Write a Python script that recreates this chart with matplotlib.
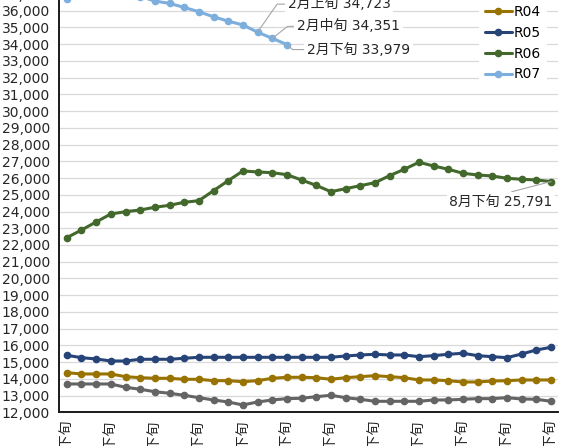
import numpy as np
import matplotlib
matplotlib.use('Agg')
import matplotlib.pyplot as plt

plt.rcParams['font.family'] = ['DejaVu Sans', 'Noto Sans CJK JP']

# 旬ごとの区分 (9月下旬 〜 8月下旬)
months = [9, 10, 11, 12, 1, 2, 3, 4, 5, 6, 7, 8]
categories = ['9月下旬']
for m in months[1:]:
    for j in ['上旬', '中旬', '下旬']:
        categories.append(f'{m}月{j}')

r03 = [13692, 13692, 13692, 13692, 13494, 13375, 13231, 13136, 13016, 12873,
       12735, 12616, 12436, 12616, 12735, 12815, 12837, 12932, 13016, 12873,
       12777, 12657, 12657, 12657, 12657, 12735, 12735, 12777, 12816, 12816,
       12873, 12795, 12777, 12657]
r04 = [14367, 14290, 14290, 14290, 14128, 14068, 14032, 14032, 13972, 13972,
       13889, 13889, 13829, 13889, 14032, 14092, 14092, 14068, 13972, 14068,
       14128, 14188, 14128, 14068, 13931, 13931, 13889, 13811, 13811, 13869,
       13889, 13931, 13931, 13931]
r05 = [15407, 15264, 15186, 15066, 15066, 15168, 15168, 15168, 15228, 15287,
       15287, 15287, 15287, 15287, 15287, 15287, 15287, 15287, 15287, 15365,
       15425, 15467, 15425, 15425, 15323, 15385, 15467, 15527, 15385, 15323,
       15264, 15485, 15724, 15885]
r06 = [22436, 22897, 23375, 23853, 23990, 24092, 24253, 24373, 24552, 24648,
       25246, 25843, 26424, 26364, 26322, 26202, 25885, 25560, 25186, 25365,
       25545, 25724, 26143, 26525, 26943, 26722, 26525, 26286, 26184, 26124,
       25987, 25927, 25885, 25791]
r07 = [36700, 36950, 37100, 37150, 37050, 36850, 36580, 36440, 36200, 35940,
       35640, 35380, 35150, 34723, 34351, 33979]

series = [('R03', r03, '#646464'), ('R04', r04, '#997300'),
          ('R05', r05, '#264478'), ('R06', r06, '#43682B'),
          ('R07', r07, '#7CAFDD')]

fig = plt.figure(figsize=(5.67, 4.46), dpi=100)
ax = fig.add_axes([0.1049, 0.0756, 0.8798, 0.9753])

x = np.arange(len(categories))
for name, vals, col in series:
    ax.plot(x[:len(vals)], vals, color=col, lw=2.2, marker='o', ms=4.5,
            label=name, solid_capstyle='round')

ax.set_xlim(-0.5, len(categories) - 0.5)
ax.set_ylim(12000, 38000)
ax.set_yticks(np.arange(12000, 38001, 1000))
ax.yaxis.set_major_formatter(matplotlib.ticker.FuncFormatter(lambda v, p: f'{int(v):,}'))
ax.set_xticks(x[::3])
ax.set_xticklabels(categories[::3], rotation=90, va='top', ha='center')
ax.tick_params(axis='both', length=0, labelsize=10, colors='#262626')
ax.tick_params(axis='y', pad=7)
ax.tick_params(axis='x', pad=5.5)
ax.grid(axis='y', color='#D9D9D9', lw=0.9)
ax.set_axisbelow(True)
for s in ['top', 'right']:
    ax.spines[s].set_visible(False)
for s in ['left', 'bottom']:
    ax.spines[s].set_color('#1a1a1a')
    ax.spines[s].set_linewidth(1.4)

# データラベル
lead = dict(arrowstyle='-', color='#A6A6A6', lw=0.8, shrinkA=0, shrinkB=0)
box = dict(boxstyle='square,pad=0.2', fc='white', ec='none')
labels_r07 = [(13, (30, 28), 'angle,angleA=0,angleB=55'),
              (14, (25, 12), 'angle,angleA=0,angleB=38'),
              (15, (20, -5), 'angle,angleA=0,angleB=-41')]
for i, off, cs in labels_r07:
    ax.annotate(f'{categories[i]} {r07[i]:,}', xy=(i, r07[i]), xytext=off,
                textcoords='offset pixels', ha='left', va='center', fontsize=10,
                color='#262626', bbox=box,
                arrowprops=dict(lead, connectionstyle=cs, relpos=(0, 0.5)))
ax.annotate(f'{categories[-1]} {r06[-1]:,}', xy=(33, r06[-1]), xytext=(-50, -20),
            textcoords='offset pixels', ha='center', va='center', fontsize=10,
            color='#262626', bbox=box,
            arrowprops=dict(lead, relpos=(0.5, 1)))

ax.legend(loc='upper left', bbox_to_anchor=(0.8455, 1.049),
          bbox_transform=fig.transFigure, borderaxespad=0, frameon=True,
          facecolor='white', edgecolor='none', framealpha=1, fancybox=False,
          fontsize=10, handlelength=1.94, handletextpad=0.15, labelspacing=0.5)

fig.savefig('out.png', dpi=100)
